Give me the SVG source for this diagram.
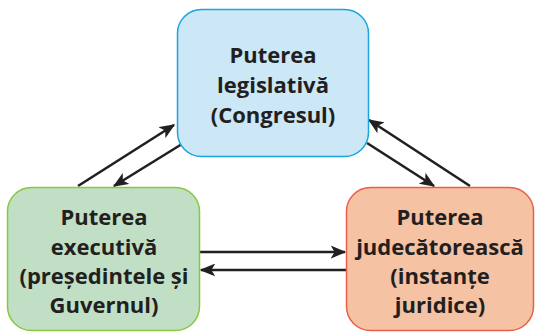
<svg xmlns="http://www.w3.org/2000/svg" width="536" height="333" viewBox="0 0 536 333">
<defs>
<style>
.t{font-family:"Open Sans","Noto Sans","Liberation Sans",sans-serif;font-weight:bold;font-size:22px;fill:#231f20;text-anchor:middle}
.c{stroke:#231f20;stroke-width:2.6;fill:none;marker-end:url(#ah)}
</style>
<marker id="ah" viewBox="0 0 12 10" refX="11" refY="5" markerWidth="6" markerHeight="5" markerUnits="strokeWidth" orient="auto">
<path d="M0,0 L12,5 L0,10 L3,5 Z" fill="#231f20"/>
</marker>
</defs>
<g id="connectors">
<line class="c" x1="78" y1="186" x2="174" y2="125"/>
<line class="c" x1="182" y1="144" x2="114" y2="186"/>
<line class="c" x1="470" y1="186" x2="369" y2="120"/>
<line class="c" x1="367" y1="143" x2="434" y2="186"/>
<line class="c" x1="200" y1="252" x2="345" y2="252"/>
<line class="c" x1="346" y1="270" x2="201" y2="270"/>
</g>
<g id="legislativa">
<rect x="177.5" y="9.5" width="191" height="147" rx="24" fill="#cce7f5" stroke="#1ba5de" stroke-width="1.5"/>
<text class="t" x="273" y="63">Puterea</text>
<text class="t" x="273" y="93">legislativă</text>
<text class="t" x="273" y="123">(Congresul)</text>
</g>
<g id="executiva">
<rect x="7.5" y="187.5" width="192" height="143" rx="24" fill="#c1dfc5" stroke="#8dc63f" stroke-width="1.5"/>
<text class="t" x="104" y="225">Puterea</text>
<text class="t" x="104" y="255">executivă</text>
<text class="t" x="104" y="284">(președintele și</text>
<text class="t" x="104" y="313">Guvernul)</text>
</g>
<g id="judecatoreasca">
<rect x="346.5" y="187.5" width="187" height="143" rx="24" fill="#f5c2a3" stroke="#e9604a" stroke-width="1.5"/>
<text class="t" x="440" y="225">Puterea</text>
<text class="t" x="440" y="255">judecătorească</text>
<text class="t" x="440" y="284">(instanțe</text>
<text class="t" x="440" y="313">juridice)</text>
</g>
</svg>
